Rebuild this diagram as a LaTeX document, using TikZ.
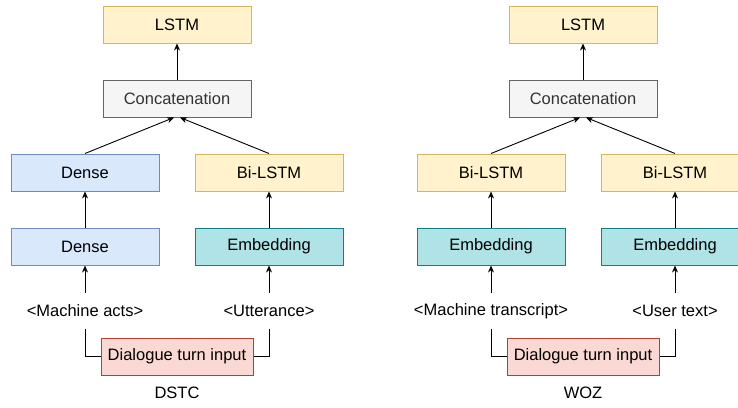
\documentclass[tikz,border=0pt]{standalone}
\usepackage{fontspec}
\setmainfont{Liberation Sans}
\usetikzlibrary{arrows.meta}
\definecolor{yfill}{HTML}{FFF2CC}\definecolor{ydraw}{HTML}{D6B656}
\definecolor{bfill}{HTML}{DAE8FC}\definecolor{bdraw}{HTML}{6C8EBF}
\definecolor{gfill}{HTML}{F5F5F5}\definecolor{gdraw}{HTML}{666666}\definecolor{gtext}{HTML}{333333}
\definecolor{tfill}{HTML}{B0E3E6}\definecolor{tdraw}{HTML}{0E8088}
\definecolor{rfill}{HTML}{FAD9D5}\definecolor{rdraw}{HTML}{AE4132}
\tikzset{
  txt/.style={font=\fontsize{16.5}{19}\selectfont},
  box/.style={txt, draw, line width=1pt, minimum width=148pt, minimum height=37pt, inner sep=0pt},
  lstmbox/.style={box, fill=yfill, draw=ydraw},
  densebox/.style={box, fill=bfill, draw=bdraw},
  catbox/.style={box, fill=gfill, draw=gdraw, text=gtext},
  embbox/.style={box, fill=tfill, draw=tdraw},
  inbox/.style={box, fill=rfill, draw=rdraw, minimum width=152pt},
  lbl/.style={txt, inner sep=0pt, minimum height=36pt},
  modelcaption/.style={txt, inner sep=0pt},
  conn/.style={line width=0.9pt, black},
  arr/.style={conn, -{Stealth[length=7pt,width=6pt]}}
}
\begin{document}
\begin{tikzpicture}[x=1pt, y=-1pt]
\useasboundingbox (0,0) rectangle (738,407);

% DSTC model
\node[lstmbox]  (lstmA)  at (177,24.5)  {LSTM};
\node[catbox]   (catA)   at (177,98.5)  {Concatenation};
\node[densebox] (denseA) at (85,172.5)  {Dense};
\node[lstmbox]  (bilA)   at (269,172.5) {Bi-LSTM};
\node[densebox] (denseB) at (85,246.5)  {Dense};
\node[embbox]   (embA)   at (269,246.5) {Embedding};
\node[lbl]      (actsA)  at (85,311)    {<Machine acts>};
\node[lbl]      (uttA)   at (269,311)   {<Utterance>};
\node[inbox]    (inA)    at (177,356.5) {Dialogue turn input};
\node[modelcaption] (capA) at (177,393) {DSTC};

\draw[arr] (catA.north) -- (lstmA.south);
\draw[arr] (denseA.north) -- ([xshift=-3pt]catA.south);
\draw[arr] (bilA.north) -- ([xshift=3pt]catA.south);
\draw[arr] (denseB.north) -- (denseA.south);
\draw[arr] (embA.north) -- (bilA.south);
\draw[arr] (actsA.north) -- (denseB.south);
\draw[arr] (uttA.north) -- (embA.south);
\draw[conn] (actsA.south) |- (inA.west);
\draw[conn] (uttA.south) |- (inA.east);

% WOZ model
\node[lstmbox]  (lstmB)  at (583,24.5)  {LSTM};
\node[catbox]   (catB)   at (583,98.5)  {Concatenation};
\node[lstmbox]  (bilB)   at (491,172.5) {Bi-LSTM};
\node[lstmbox]  (bilC)   at (675,172.5) {Bi-LSTM};
\node[embbox]   (embB)   at (491,246.5) {Embedding};
\node[embbox]   (embC)   at (675,246.5) {Embedding};
\node[lbl]      (transB) at (491,311)   {<Machine transcript>};
\node[lbl]      (userB)  at (675,311)   {<User text>};
\node[inbox]    (inB)    at (583,356.5) {Dialogue turn input};
\node[modelcaption] (capB) at (583,393) {WOZ};

\draw[arr] (catB.north) -- (lstmB.south);
\draw[arr] (bilB.north) -- ([xshift=-3pt]catB.south);
\draw[arr] (bilC.north) -- ([xshift=3pt]catB.south);
\draw[arr] (embB.north) -- (bilB.south);
\draw[arr] (embC.north) -- (bilC.south);
\draw[arr] (transB.north) -- (embB.south);
\draw[arr] (userB.north) -- (embC.south);
\draw[conn] (transB.south) |- (inB.west);
\draw[conn] (userB.south) |- (inB.east);
\end{tikzpicture}
\end{document}
